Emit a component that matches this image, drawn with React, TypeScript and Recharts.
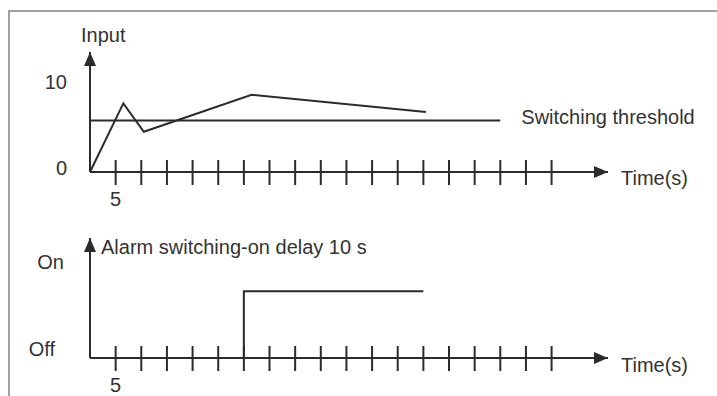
import React from "react";
import { LineChart, Line, XAxis, YAxis, Label, LabelList } from "recharts";

// top panel: input signal vs. switching threshold
const inputTime = [0, 6.5, 10.5, 31.5, 65.5];
const inputValue = [0, 8, 4.7, 9, 7];
const thresholdTime = [0, 80];
const thresholdValue = [6, 6];
const inputTicks = [0, 10];
const inputTickLabels = ["0", "10"];

// bottom panel: alarm output
const alarmTime = [0, 30, 65];
const alarmValue = [0, 1, 1];
const alarmTicks = [0, 1];
const alarmTickLabels = ["Off", "On"];

// shared time axis (s)
const timeTicks = [5, 10, 15, 20, 25, 30, 35, 40, 45, 50, 55, 60, 65, 70, 75, 80, 85, 90];
const labeledTimeTicks = [5];

const FONT = "'Liberation Sans', Arial, Helvetica, sans-serif";
const INK = "#2b2b2b";
const TEXT = "#333";

const inputData = inputTime.map((t, i) => ({ t, v: inputValue[i] }));
const thresholdData = thresholdTime.map((t, i) => ({ t, v: thresholdValue[i] }));
const alarmData = alarmTime.map((t, i) => ({ t, v: alarmValue[i] }));

const txt = { fontFamily: FONT, fontSize: 20, fill: TEXT };

function ArrowDefs({ id }: { id: string }) {
  return (
    <defs>
      <marker
        id={id}
        viewBox="0 0 14 12"
        refX={14}
        refY={6}
        markerWidth={14}
        markerHeight={12}
        markerUnits="userSpaceOnUse"
        orient="auto-start-reverse"
      >
        <path d="M0,0 L14,6 L0,12 z" fill={INK} />
      </marker>
    </defs>
  );
}

function TimeTick(props: any) {
  const { x, y, payload } = props;
  const showLabel = labeledTimeTicks.includes(payload.value);
  return (
    <g>
      <line x1={x} x2={x} y1={y - 12} y2={y + 13} stroke={INK} strokeWidth={2} />
      {showLabel && (
        <text x={x} y={y + 27} textAnchor="middle" dominantBaseline="central" {...txt}>
          {payload.value}
        </text>
      )}
    </g>
  );
}

const makeYTick =
  (ticks: number[], labels: string[], nudges: { dx: number; dy: number }[]) =>
  (props: any) => {
    const i = ticks.indexOf(props.payload.value);
    if (i < 0) return <g />;
    return (
      <text
        x={props.x + nudges[i].dx}
        y={props.y + nudges[i].dy}
        textAnchor="end"
        dominantBaseline="central"
        {...txt}
      >
        {labels[i]}
      </text>
    );
  };

const InputTick = makeYTick(inputTicks, inputTickLabels, [
  { dx: -23, dy: -4 },
  { dx: -23, dy: -4 },
]);
const AlarmTick = makeYTick(alarmTicks, alarmTickLabels, [
  { dx: -35, dy: -9 },
  { dx: -26, dy: -29 },
]);

const timeLabel = (dy: number) => (p: any) => {
  const vb = p.viewBox;
  return (
    <text x={vb.x + vb.width + 13} y={vb.y + dy} dominantBaseline="central" {...txt}>
      Time(s)
    </text>
  );
};

const axisTitle = (text: string, dx: number, dy: number) => (p: any) => {
  const vb = p.viewBox;
  return (
    <text x={vb.x + vb.width + dx} y={vb.y + dy} dominantBaseline="central" {...txt}>
      {text}
    </text>
  );
};

const thresholdLabel = (p: any) => {
  if (p.index !== thresholdData.length - 1) return null;
  return (
    <text x={p.x + 21} y={p.y - 4} dominantBaseline="central" {...txt}>
      Switching threshold
    </text>
  );
};

const W = 717;
const H = 396;

export default function App() {
  return (
    <div
      style={{
        position: "absolute",
        left: 0,
        top: 0,
        width: W,
        height: H,
        background: "#fff",
        fontFamily: FONT,
        overflow: "hidden",
      }}
    >
      <div
        style={{
          position: "absolute",
          left: 8,
          top: 10,
          width: W,
          height: H,
          borderTop: "2px solid #a0a0a0",
          borderLeft: "2px solid #a0a0a0",
        }}
      />

      <div style={{ position: "absolute", left: 0, top: 0 }}>
        <LineChart width={W} height={H} margin={{ top: 52, right: 109, bottom: 223, left: 89 }}>
          <ArrowDefs id="arrowTop" />
          <XAxis
            dataKey="t"
            type="number"
            domain={[0, 101]}
            ticks={timeTicks}
            interval={0}
            height={1}
            tickSize={0}
            tickMargin={0}
            tickLine={false}
            tick={<TimeTick />}
            axisLine={{ stroke: INK, strokeWidth: 2, markerEnd: "url(#arrowTop)" }}
          >
            <Label content={timeLabel(6)} />
          </XAxis>
          <YAxis
            type="number"
            domain={[0, 14]}
            ticks={inputTicks}
            interval={0}
            width={1}
            tickSize={0}
            tickMargin={0}
            tickLine={false}
            tick={<InputTick />}
            axisLine={{ stroke: INK, strokeWidth: 2, markerStart: "url(#arrowTop)" }}
          >
            <Label content={axisTitle("Input", -9, -17)} />
          </YAxis>
          <Line
            data={thresholdData}
            dataKey="v"
            type="linear"
            stroke={INK}
            strokeWidth={2}
            dot={false}
            isAnimationActive={false}
          >
            <LabelList dataKey="v" content={thresholdLabel} />
          </Line>
          <Line
            data={inputData}
            dataKey="v"
            type="linear"
            stroke={INK}
            strokeWidth={2}
            dot={false}
            isAnimationActive={false}
          />
        </LineChart>
      </div>

      <div style={{ position: "absolute", left: 0, top: 0 }}>
        <LineChart width={W} height={H} margin={{ top: 238, right: 109, bottom: 37, left: 89 }}>
          <ArrowDefs id="arrowBottom" />
          <XAxis
            dataKey="t"
            type="number"
            domain={[0, 101]}
            ticks={timeTicks}
            interval={0}
            height={1}
            tickSize={0}
            tickMargin={0}
            tickLine={false}
            tick={<TimeTick />}
            axisLine={{ stroke: INK, strokeWidth: 2, markerEnd: "url(#arrowBottom)" }}
          >
            <Label content={timeLabel(7)} />
          </XAxis>
          <YAxis
            type="number"
            domain={[0, 1.8]}
            ticks={alarmTicks}
            interval={0}
            width={1}
            tickSize={0}
            tickMargin={0}
            tickLine={false}
            tick={<AlarmTick />}
            axisLine={{ stroke: INK, strokeWidth: 2, markerStart: "url(#arrowBottom)" }}
          >
            <Label content={axisTitle("Alarm switching-on delay 10 s", 11, 9)} />
          </YAxis>
          <Line
            data={alarmData}
            dataKey="v"
            type="stepAfter"
            stroke={INK}
            strokeWidth={2}
            dot={false}
            isAnimationActive={false}
          />
        </LineChart>
      </div>
    </div>
  );
}
